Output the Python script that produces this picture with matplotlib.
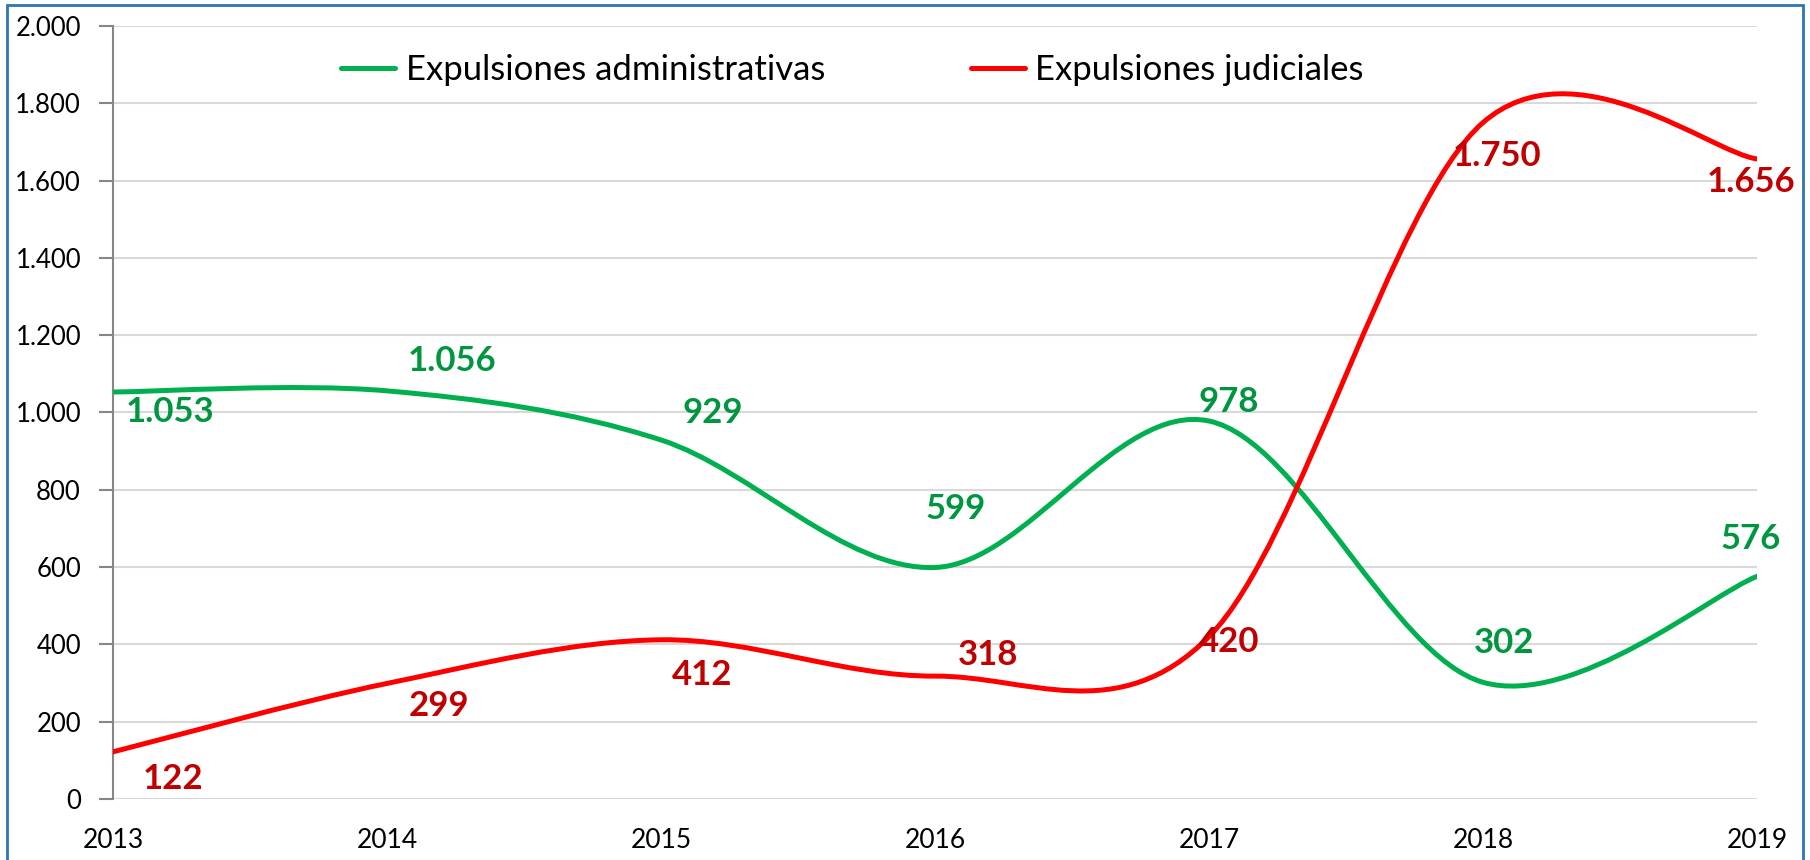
import numpy as np
import matplotlib.pyplot as plt
from matplotlib.path import Path
from matplotlib.patches import PathPatch, Rectangle
from matplotlib.lines import Line2D

plt.rcParams['font.family'] = ['Lato', 'DejaVu Sans']

# Datos
years = [2013, 2014, 2015, 2016, 2017, 2018, 2019]
administrativas = [1053, 1056, 929, 599, 978, 302, 576]
judiciales = [122, 299, 412, 318, 420, 1750, 1656]
series_names = ['Expulsiones administrativas', 'Expulsiones judiciales']

# Colores y desplazamientos de las etiquetas (en pixeles)
line_colors = ['#00B050', '#FF0000']
label_colors = ['#00963F', '#C00000']
offsets_adm = [(57, -20), (65, 30), (52, 27), (21, 58), (20, 19), (21, 39), (-6, 37)]
offsets_jud = [(60, -27), (52, -23), (41, -35), (53, 21), (20, -5), (14, -33), (-6, -23)]


def smooth_path(x, y):
    # curva suavizada tipo Excel (Bezier con puntos de control de Catmull-Rom)
    pts = np.column_stack([x, y]).astype(float)
    n = len(pts)
    verts = [pts[0]]
    codes = [Path.MOVETO]
    for i in range(n - 1):
        p0 = pts[max(i - 1, 0)]
        p1 = pts[i]
        p2 = pts[i + 1]
        p3 = pts[min(i + 2, n - 1)]
        c1 = p1 + (p2 - p0) / 6
        c2 = p2 - (p3 - p1) / 6
        verts += [c1, c2, p2]
        codes += [Path.CURVE4] * 3
    return Path(verts, codes)


fig = plt.figure(figsize=(18.1, 8.6), dpi=100)
ax = fig.add_axes([0.0624, 0.0709, 0.9083, 0.8989])

for vals, lc, tc, offs in [(administrativas, line_colors[0], label_colors[0], offsets_adm),
                           (judiciales, line_colors[1], label_colors[1], offsets_jud)]:
    patch = PathPatch(smooth_path(years, vals), facecolor='none', edgecolor=lc,
                      lw=3.6, capstyle='round', joinstyle='round', zorder=3)
    ax.add_patch(patch)
    for x, v, (dx, dy) in zip(years, vals, offs):
        txt = f'{v:,}'.replace(',', '.')
        ax.annotate(txt, (x, v), xytext=(dx, dy), textcoords='offset pixels',
                    ha='center', va='center', fontsize=25, fontweight='bold',
                    color=tc, zorder=4)

ax.set_xlim(2013, 2019)
ax.set_ylim(0, 2000)
ax.set_xticks(years)
ax.set_yticks(np.arange(0, 2001, 200))
ax.set_yticklabels([f'{v:,}'.replace(',', '.') for v in range(0, 2001, 200)])
ax.yaxis.grid(True, color='#D9D9D9', lw=1.5)
ax.set_axisbelow(True)
for s in ['top', 'right', 'bottom']:
    ax.spines[s].set_visible(False)
ax.spines['left'].set_color('#868686')
ax.spines['left'].set_linewidth(1.5)
ax.tick_params(axis='y', length=10, width=1.5, color='#868686', pad=13, labelsize=18.5)
ax.tick_params(axis='x', length=0, pad=21, labelsize=19)

handles = [Line2D([], [], color=c, lw=3.6, solid_capstyle='round') for c in line_colors]
ax.legend(handles, series_names, loc='center left', bbox_to_anchor=(0.139, 0.943),
          ncol=2, frameon=False, fontsize=25, handlelength=1.55, handletextpad=0.3,
          columnspacing=4.2, borderpad=0, borderaxespad=0)

# marco azul
fig.patches.append(Rectangle((7 / 1810, -0.05), 1796 / 1810, 1.05 - 5 / 860,
                             transform=fig.transFigure, fill=False,
                             edgecolor='#2E75B6', lw=2))

fig.savefig('out.png', dpi=100)
